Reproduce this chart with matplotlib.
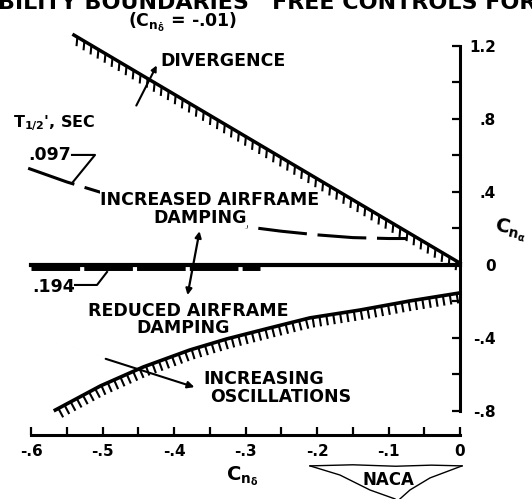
import matplotlib
matplotlib.use("Agg")
import matplotlib.pyplot as plt
import matplotlib.patheffects as pe
import numpy as np

plt.rcParams['font.family'] = ['DejaVu Sans']
plt.rcParams['font.weight'] = 'bold'
plt.rcParams['mathtext.fontset'] = 'dejavusans'
plt.rcParams['mathtext.default'] = 'bf'

# divergence boundary (straight hatched line)
div_x = [-0.54, 0.0]
div_y = [1.26, 0.01]

# increasing oscillations boundary (lower hatched curve)
osc_x = [-0.566, -0.503, -0.443, -0.378, -0.326, -0.266, -0.210, -0.140, -0.070, 0.0]
osc_y = [-0.795, -0.663, -0.559, -0.466, -0.405, -0.345, -0.290, -0.247, -0.197, -0.153]

# T1/2 = .097 sec (dashed)
t097_x = [-0.604, -0.55, -0.50, -0.45, -0.40, -0.35, -0.30, -0.25, -0.20, -0.15, -0.10, -0.074]
t097_y = [0.53, 0.455, 0.395, 0.335, 0.285, 0.245, 0.21, 0.185, 0.165, 0.15, 0.145, 0.145]

# T1/2 = .194 sec (heavy dashed, near zero)
t194_x = [-0.6, -0.28]
t194_y = [-0.012, -0.012]

# neutral line
zero_x = [-0.6, 0.0]
zero_y = [0.0, 0.0]

xticks = [-0.6, -0.5, -0.4, -0.3, -0.2, -0.1, 0.0]
xticklabels = ["-.6", "-.5", "-.4", "-.3", "-.2", "-.1", "0"]
yticks = [-0.8, -0.4, 0.0, 0.4, 0.8, 1.2]
yticklabels = ["-.8", "-.4", "0", ".4", ".8", "1.2"]

fig = plt.figure(figsize=(5.32, 4.99), dpi=100)
ax = fig.add_axes([0.0583, 0.1289, 0.8064, 0.8155])
ax.set_xlim(-0.6, 0.0)
ax.set_ylim(-0.93, 1.30)

ax.spines['top'].set_visible(False)
ax.spines['left'].set_visible(False)
ax.spines['right'].set_bounds(-0.8, 1.2)
ax.spines['bottom'].set_bounds(-0.6, 0.0)
for s in ['right', 'bottom']:
    ax.spines[s].set_linewidth(2.2)

ax.yaxis.tick_right()
ax.set_yticks(yticks)
ax.set_yticklabels(yticklabels)
ax.set_yticks(np.arange(-0.6, 1.1, 0.4), minor=True)
ax.set_xticks(xticks)
ax.set_xticklabels(xticklabels)
ax.set_xticks(np.arange(-0.55, 0.0, 0.1), minor=True)
ax.tick_params(axis='y', which='both', direction='in', length=6, width=1.6,
               pad=26, labelsize=11, right=True, left=False)
ax.tick_params(axis='x', which='both', direction='in', length=6, width=1.6,
               pad=7, labelsize=11)
for lab in ax.get_yticklabels():
    lab.set_horizontalalignment('right')

# boundaries
ax.plot(div_x, div_y, color='black', lw=2.5, clip_on=False,
        path_effects=[pe.withTickedStroke(angle=-65, spacing=5.8, length=1.0, linewidth=1.5)])
ax.plot(osc_x, osc_y, color='black', lw=2.6, clip_on=False,
        path_effects=[pe.withTickedStroke(angle=-90, spacing=5.0, length=1.3, linewidth=1.5)])

ax.plot(t097_x, t097_y, color='black', lw=2.2, dashes=(16, 3.5), clip_on=False, zorder=2)
ax.plot(zero_x, zero_y, color='black', lw=3.0, clip_on=False, zorder=2)
ax.plot(t194_x, t194_y, color='black', lw=5.0, dashes=(7, 0.6), clip_on=False, zorder=2)

# labels
fs = 12.5
white = dict(facecolor='white', edgecolor='none', pad=0.5)
ax.text(-0.4196, 1.12, "DIVERGENCE", fontsize=fs, ha='left', va='center')
ax.annotate("", xy=(-0.4224, 1.107), xytext=(-0.4545, 0.860),
            arrowprops=dict(arrowstyle="-|>", lw=1.5, color='black', mutation_scale=8))

ax.text(-0.625, 0.78, r"T$_{1/2}$', SEC", fontsize=11.5, ha='left', va='center')
ax.text(-0.604, 0.60, ".097", fontsize=fs, ha='left', va='center')
ax.plot([-0.5427, -0.5105, -0.5413], [0.603, 0.603, 0.455], color='black', lw=1.5, clip_on=False)

ax.text(-0.3497, 0.356, "INCREASED AIRFRAME", fontsize=fs, ha='center', va='center',
        zorder=5, bbox=white)
ax.text(-0.3636, 0.258, "DAMPING", fontsize=fs, ha='center', va='center', zorder=5, bbox=white)
ax.annotate("", xy=(-0.3636, 0.20), xytext=(-0.3818, -0.18),
            arrowprops=dict(arrowstyle="<|-|>", lw=1.6, color='black', mutation_scale=9),
            zorder=6)

ax.text(-0.5986, -0.12, ".194", fontsize=fs, ha='left', va='center')
ax.plot([-0.5385, -0.5077, -0.4937], [-0.1096, -0.1096, -0.0384], color='black', lw=1.5, clip_on=False)

ax.text(-0.3804, -0.252, "REDUCED AIRFRAME", fontsize=fs, ha='center', va='center')
ax.text(-0.3874, -0.345, "DAMPING", fontsize=fs, ha='center', va='center')

ax.text(-0.3594, -0.625, "INCREASING", fontsize=fs, ha='left', va='center')
ax.text(-0.3497, -0.723, "OSCILLATIONS", fontsize=fs, ha='left', va='center')
ax.annotate("", xy=(-0.3678, -0.674), xytext=(-0.4993, -0.5096),
            arrowprops=dict(arrowstyle="-|>", lw=1.5, color='black', mutation_scale=10))

ax.text(0.07, 0.19, r"C$_{n_\alpha}$", fontsize=14, ha='center', va='center', rotation=-12)
ax.text(-0.305, -1.156, r"C$_{n_\delta}$", fontsize=14, ha='center', va='center')
ax.text(-0.4643, 1.33, r"(C$_{n_{\dot{\delta}}}$ = -.01)", fontsize=12.5, ha='left', va='center')

fig.text(-0.004, 1 - 9 / 499, "BILITY BOUNDARIES   FREE CONTROLS FORW",
         fontsize=16, ha='left', va='baseline')

# NACA logo outline
naca_top_x = [-0.2098, -0.15, -0.09, -0.04, 0.0028]
naca_top_y = [-1.101, -1.095, -1.103, -1.097, -1.101]
naca_l_x = [-0.2098, -0.168, -0.126, -0.091]
naca_l_y = [-1.101, -1.151, -1.233, -1.282]
naca_r_x = [0.0028, -0.042, -0.07, -0.084]
naca_r_y = [-1.101, -1.167, -1.233, -1.282]
for xs, ys in [(naca_top_x, naca_top_y), (naca_l_x, naca_l_y), (naca_r_x, naca_r_y)]:
    ax.plot(xs, ys, color='black', lw=1.0, clip_on=False)
ax.text(-0.1, -1.18, "NACA", fontsize=12, ha='center', va='center')

fig.savefig("out.png", dpi=100)
